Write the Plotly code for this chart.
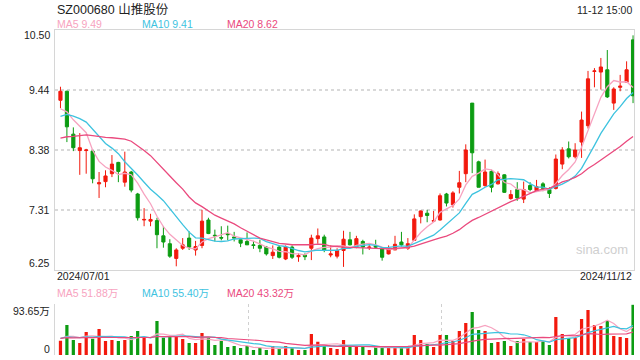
import plotly.graph_objects as go
import pandas as pd

# ---------------- data ----------------
stock_title = "SZ000680 山推股份"
timestamp_label = "11-12 15:00"
start_date_label = "2024/07/01"
end_date_label = "2024/11/12"

opens = [9.25, 9.41, 8.65, 8.36, 8.36, 8.35, 7.77, 7.81, 7.95, 8.15,
         7.80, 7.98, 7.59, 7.13, 7.11, 7.12, 6.85, 6.71, 6.45, 6.63,
         6.81, 6.60, 6.68, 7.13, 6.86, 6.82, 6.89, 6.83, 6.78, 6.75,
         6.69, 6.68, 6.65, 6.50, 6.65, 6.44, 6.65, 6.48, 6.51, 6.63,
         6.80, 6.83, 6.51, 6.49, 6.59, 6.78, 6.65, 6.75, 6.64, 6.67,
         6.63, 6.53, 6.60, 6.74, 6.63, 6.77, 7.19, 7.25, 7.11, 7.13,
         7.59, 7.40, 7.71, 7.95, 9.20, 8.16, 7.74, 7.99, 7.77, 7.93,
         7.51, 7.67, 7.50, 7.74, 7.65, 7.77, 7.67, 7.69, 8.12, 8.39,
         8.25, 8.51, 8.80, 9.76, 9.75, 9.79, 9.20, 9.48, 9.57, 10.32]
highs = [9.49, 9.42, 8.77, 8.67, 8.39, 8.36, 7.98, 8.01, 8.28, 8.16,
         8.34, 8.00, 7.61, 7.34, 7.24, 7.17, 7.02, 6.79, 6.63, 6.81,
         6.93, 6.76, 7.31, 7.17, 6.96, 7.02, 7.03, 6.92, 6.79, 6.91,
         6.76, 6.78, 6.67, 6.68, 6.68, 6.68, 6.68, 6.54, 6.54, 6.87,
         6.98, 6.87, 6.68, 6.63, 6.94, 6.92, 6.85, 6.78, 6.69, 6.78,
         6.64, 6.68, 6.85, 6.92, 6.81, 7.23, 7.30, 7.31, 7.29, 7.60,
         7.61, 7.64, 8.00, 8.47, 9.20, 8.18, 8.20, 8.02, 7.99, 7.94,
         7.66, 7.80, 7.81, 7.80, 7.84, 7.80, 7.71, 8.29, 8.42, 8.52,
         8.49, 9.05, 9.77, 9.82, 10.00, 10.14, 9.48, 9.70, 9.94, 10.40]
lows = [9.11, 8.51, 8.35, 7.93, 7.95, 7.78, 7.52, 7.71, 7.89, 7.80,
        7.72, 7.62, 7.12, 7.02, 7.02, 6.63, 6.64, 6.46, 6.31, 6.60,
        6.60, 6.50, 6.63, 6.88, 6.75, 6.77, 6.77, 6.75, 6.65, 6.69,
        6.62, 6.56, 6.50, 6.44, 6.45, 6.42, 6.44, 6.39, 6.42, 6.42,
        6.71, 6.56, 6.47, 6.45, 6.30, 6.68, 6.63, 6.52, 6.60, 6.63,
        6.41, 6.52, 6.60, 6.66, 6.60, 6.76, 7.07, 7.09, 7.11, 7.12,
        7.37, 7.35, 7.60, 7.80, 7.96, 7.71, 7.72, 7.62, 7.76, 7.61,
        7.49, 7.47, 7.43, 7.64, 7.64, 7.64, 7.52, 7.67, 8.03, 8.22,
        8.22, 8.23, 8.75, 9.48, 9.44, 9.29, 9.08, 9.41, 9.57, 9.20]
closes = [9.41, 8.78, 8.41, 8.41, 8.37, 7.86, 7.79, 7.91, 8.12, 7.99,
          7.98, 7.66, 7.17, 7.14, 7.14, 6.87, 6.74, 6.49, 6.60, 6.69,
          6.65, 6.66, 7.11, 6.89, 6.85, 6.81, 6.87, 6.81, 6.72, 6.69,
          6.68, 6.63, 6.53, 6.56, 6.47, 6.65, 6.47, 6.50, 6.48, 6.81,
          6.85, 6.59, 6.53, 6.59, 6.79, 6.69, 6.80, 6.65, 6.65, 6.65,
          6.47, 6.62, 6.70, 6.69, 6.71, 7.15, 7.29, 7.21, 7.12, 7.56,
          7.43, 7.61, 7.79, 8.37, 8.32, 7.71, 7.98, 7.71, 7.95, 7.62,
          7.58, 7.52, 7.67, 7.67, 7.72, 7.69, 7.60, 8.21, 8.37, 8.25,
          8.37, 8.90, 9.63, 9.77, 9.84, 9.31, 9.45, 9.50, 9.79, 9.33]
# volume in 万 (10k shares)
volumes = [26.5, 55.4, 27.7, 22.2, 42.5, 30.2, 48.1, 25.9, 27.7, 25.9,
           27.7, 35.1, 44.4, 32.0, 20.9, 62.8, 32.0, 33.9, 35.1, 29.6,
           22.2, 22.2, 40.7, 32.0, 18.5, 25.9, 14.8, 16.6, 12.9, 16.6,
           9.2, 12.9, 9.2, 16.6, 11.1, 16.6, 12.9, 9.2, 9.2, 38.8,
           24.6, 16.6, 12.9, 11.1, 27.7, 14.8, 16.6, 14.8, 9.2, 14.8,
           12.9, 12.9, 12.9, 12.9, 14.8, 37.0, 27.7, 20.3, 14.8, 37.0,
           37.0, 25.9, 44.4, 59.1, 79.5, 46.2, 44.4, 22.2, 24.0, 25.9,
           16.6, 25.9, 29.6, 24.0, 24.0, 25.9, 18.5, 70.2, 38.8, 31.4,
           31.4, 66.5, 83.2, 55.4, 53.6, 62.8, 35.1, 33.3, 31.4, 93.0]

# estimated closes / volumes of the 19 sessions before the window (needed for MAs)
prior_closes = [8.30, 8.25, 8.18, 8.12, 8.10, 8.15, 8.20, 8.22, 8.18, 8.25,
                8.45, 8.70, 8.85, 9.00, 9.16, 9.05, 9.12, 8.95, 8.97]
prior_volumes = [28, 35, 30, 26, 33, 31, 29, 36, 27, 32,
                 30, 34, 28, 31, 33, 35, 29, 32, 30]

price_ticks = [6.25, 7.3125, 8.375, 9.4375, 10.50]
price_tick_labels = ["6.25", "7.31", "8.38", "9.44", "10.50"]
volume_top = 93.65
volume_tick_labels = ["0", "93.65万"]

ma_windows = [5, 10, 20]
ma_price_text = ["9.49", "9.41", "8.62"]
ma_volume_text = ["51.88万", "55.40万", "43.32万"]

# ---------------- styles ----------------
RED = "#f2190d"
GREEN = "#0c9c12"
MA_COLORS = ["#f7a3c0", "#3ec3df", "#ea4a7e"]
TXT = "#222222"
FONT = "Liberation Sans, Arial, Noto Sans CJK SC, sans-serif"
BORDER = "#d6d6d6"
GRID = "#d9d9d9"

W, H = 640, 360
ML, MR = 55, 6
plot_w = W - ML - MR

def py(px):  # pixel row -> paper y
    return (H - px) / H

def pxx(px):  # pixel column -> paper x
    return (px - ML) / plot_w

n = len(closes)
idx = list(range(n))
x_lo, x_hi = -0.85, n - 1 + 0.15

close_all = pd.Series(prior_closes + closes)
vol_all = pd.Series(prior_volumes + volumes)
np_ = len(prior_closes)

fig = go.Figure()

fig.add_trace(go.Candlestick(
    x=idx, open=opens, high=highs, low=lows, close=closes,
    increasing=dict(line=dict(color=RED, width=1), fillcolor=RED),
    decreasing=dict(line=dict(color=GREEN, width=1), fillcolor=GREEN),
    whiskerwidth=0, xaxis="x", yaxis="y", showlegend=False, hoverinfo="skip"))

for w, c in zip(ma_windows, MA_COLORS):
    ma = close_all.rolling(w).mean().iloc[np_:].tolist()
    fig.add_trace(go.Scatter(x=idx, y=ma, mode="lines", line=dict(color=c, width=1.3),
                             xaxis="x", yaxis="y", showlegend=False, hoverinfo="skip"))

bar_colors = [RED if c >= o else GREEN for o, c in zip(opens, closes)]
fig.add_trace(go.Bar(x=idx, y=volumes, marker=dict(color=bar_colors, line=dict(width=0)),
                     width=0.5, xaxis="x2", yaxis="y2", showlegend=False, hoverinfo="skip"))

for w, c in zip(ma_windows, MA_COLORS):
    ma = vol_all.rolling(w).mean().iloc[np_:].tolist()
    fig.add_trace(go.Scatter(x=idx, y=ma, mode="lines", line=dict(color=c, width=1.2),
                             xaxis="x2", yaxis="y2", showlegend=False, hoverinfo="skip"))

main_dom = [py(269.7), py(29.7)]
vol_dom = [py(355), py(304.3)]
thirds = [x_lo + (x_hi - x_lo) / 3, x_lo + 2 * (x_hi - x_lo) / 3]

fig.update_layout(
    width=W, height=H, margin=dict(l=ML, r=MR, t=0, b=0, pad=0),
    paper_bgcolor="white", plot_bgcolor="white",
    font=dict(family=FONT, color=TXT, size=11),
    showlegend=False, boxgap=0.3,
    xaxis=dict(domain=[0, 1], anchor="y", range=[x_lo, x_hi], showgrid=False,
               showticklabels=False, zeroline=False, showline=True, mirror=True,
               linecolor=BORDER, linewidth=1, rangeslider=dict(visible=False), fixedrange=True),
    yaxis=dict(domain=main_dom, anchor="x", range=[price_ticks[0], price_ticks[-1]],
               tickvals=price_ticks[1:-1], showgrid=True, gridcolor=GRID, griddash="dot",
               gridwidth=1.5, showticklabels=False, ticks="", zeroline=False, showline=True,
               mirror=True, linecolor=BORDER, linewidth=1, fixedrange=True),
    xaxis2=dict(domain=[0, 1], anchor="y2", range=[x_lo, x_hi], tickvals=thirds,
                showgrid=True, gridcolor="#d0d0d0", griddash="dot", showticklabels=False,
                ticks="", zeroline=False, showline=False, fixedrange=True),
    yaxis2=dict(domain=vol_dom, anchor="x2", range=[0, volume_top], tickvals=[0, volume_top],
                showgrid=True, gridcolor="#d0d0d0", griddash="dot", gridwidth=1.5,
                showticklabels=False, ticks="", zeroline=False, showline=True,
                linecolor=BORDER, linewidth=1, fixedrange=True),
)

ann = []
ann.append(dict(text=stock_title, xref="paper", yref="paper", x=0, y=py(10),
                xanchor="left", yanchor="middle", showarrow=False,
                font=dict(size=12.5, color=TXT)))
ann.append(dict(text=timestamp_label, xref="paper", yref="paper", x=1, y=py(10),
                xanchor="right", yanchor="middle", showarrow=False,
                font=dict(size=10.5, color=TXT)))
legend_x = [55, 140, 225]
for w, c, t, lx in zip(ma_windows, MA_COLORS, ma_price_text, legend_x):
    ann.append(dict(text=f"MA{w} {t}", xref="paper", yref="paper", x=pxx(lx), y=py(24),
                    xanchor="left", yanchor="middle", showarrow=False,
                    font=dict(size=10.5, color=c)))
for w, c, t, lx in zip(ma_windows, MA_COLORS, ma_volume_text, legend_x):
    ann.append(dict(text=f"MA{w} {t}", xref="paper", yref="paper", x=pxx(lx), y=py(293),
                    xanchor="left", yanchor="middle", showarrow=False,
                    font=dict(size=10.5, color=c)))
shifts = [6.5, 0, 0, 0, -5.5]
for v, lab, s in zip(price_ticks, price_tick_labels, shifts):
    ann.append(dict(text=lab, xref="paper", yref="y", x=0, y=v, xshift=-3, yshift=s,
                    xanchor="right", yanchor="middle", showarrow=False,
                    font=dict(size=10.5, color=TXT)))
for v, lab, s in zip([0, volume_top], volume_tick_labels, [6.5, -7]):
    ann.append(dict(text=lab, xref="paper", yref="y2", x=0, y=v, xshift=-3, yshift=s,
                    xanchor="right", yanchor="middle", showarrow=False,
                    font=dict(size=10.5, color=TXT)))
ann.append(dict(text=start_date_label, xref="paper", yref="paper", x=0, y=py(276),
                xanchor="left", yanchor="middle", showarrow=False, font=dict(size=10.5, color=TXT)))
ann.append(dict(text=end_date_label, xref="paper", yref="paper", x=1, y=py(276),
                xanchor="right", yanchor="middle", showarrow=False, font=dict(size=10.5, color=TXT)))
ann.append(dict(text="sina.com", xref="paper", yref="paper", x=pxx(602), y=py(249),
                xanchor="center", yanchor="middle", showarrow=False,
                font=dict(size=13, color="#cfcfcf")))
fig.update_layout(annotations=ann)

fig.write_html("out.html", config={"displayModeBar": False},
               post_script="document.body.style.margin='0px';document.body.style.overflow='hidden';")
